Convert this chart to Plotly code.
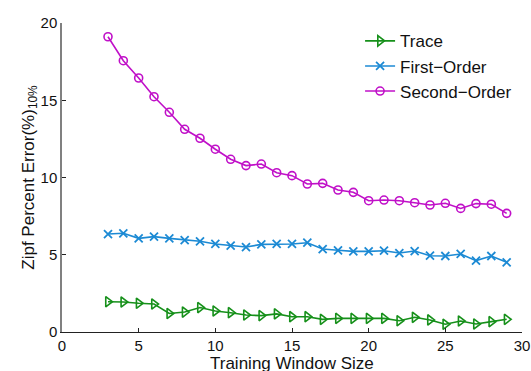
import plotly.graph_objects as go

window = list(range(3, 30))
trace_err = [1.96, 1.94, 1.86, 1.81, 1.20, 1.29, 1.58, 1.36, 1.25, 1.10, 1.06, 1.17, 0.99, 0.99,
             0.82, 0.88, 0.88, 0.88, 0.88, 0.73, 0.95, 0.78, 0.50, 0.71, 0.52, 0.67, 0.82]
first_err = [6.34, 6.39, 6.06, 6.17, 6.06, 5.95, 5.87, 5.70, 5.59, 5.50, 5.67, 5.70, 5.70, 5.78,
             5.37, 5.29, 5.22, 5.22, 5.26, 5.11, 5.24, 4.94, 4.92, 5.05, 4.62, 4.92, 4.51]
second_err = [19.11, 17.56, 16.44, 15.23, 14.22, 13.12, 12.54, 11.83, 11.18, 10.77, 10.87, 10.31,
              10.12, 9.58, 9.62, 9.19, 9.04, 8.50, 8.54, 8.50, 8.37, 8.22, 8.33, 8.00, 8.31, 8.27, 7.68]
x_ticks = [0, 5, 10, 15, 20, 25, 30]
y_ticks = [0, 5, 10, 15, 20]

GREEN = "#16901a"
BLUE = "#1c8ad4"
MAGENTA = "#c010c8"

fig = go.Figure()
fig.add_trace(go.Scatter(x=window, y=trace_err, name="Trace", mode="lines+markers",
                         line=dict(color=GREEN, width=1.6),
                         marker=dict(symbol="triangle-right-open", size=9, color=GREEN,
                                     line=dict(width=1.6, color=GREEN))))
fig.add_trace(go.Scatter(x=window, y=first_err, name="First\u2212Order", mode="lines+markers",
                         line=dict(color=BLUE, width=1.6),
                         marker=dict(symbol="x-thin", size=8, color=BLUE,
                                     line=dict(width=1.8, color=BLUE))))
fig.add_trace(go.Scatter(x=window, y=second_err, name="Second\u2212Order", mode="lines+markers",
                         line=dict(color=MAGENTA, width=1.6),
                         marker=dict(symbol="circle-open", size=8, color=MAGENTA,
                                     line=dict(width=1.6, color=MAGENTA))))

font = dict(family="Liberation Sans, Arial, sans-serif", size=15, color="#111111")
fig.update_layout(
    width=531, height=371,
    margin=dict(l=62, r=9, t=23, b=39),
    paper_bgcolor="white", plot_bgcolor="white",
    font=font,
    showlegend=True,
    legend=dict(x=0.648, y=0.999, xanchor="left", yanchor="top", bgcolor="rgba(0,0,0,0)",
                font=dict(size=17), tracegroupgap=0, itemwidth=30),
    xaxis=dict(range=[0, 30], tickvals=x_ticks, showgrid=False, zeroline=False,
               showline=True, linecolor="#222222", linewidth=1, automargin=False,
               ticks="inside", ticklen=4, tickcolor="#222222"),
    yaxis=dict(range=[0, 20], tickvals=y_ticks, showgrid=False, zeroline=False,
               showline=True, linecolor="#808080", linewidth=1.5, automargin=False,
               ticks="inside", ticklen=4, tickcolor="#222222",
               title=dict(text="Zipf Percent Error(%)<sub>10%</sub>", standoff=2, font=dict(size=17))),
    annotations=[dict(text="Training Window Size", xref="paper", yref="paper",
                      x=0.5, y=-0.102, xanchor="center", yanchor="middle",
                      showarrow=False, font=dict(size=17), borderpad=0)],
)
fig.write_html("out.html", config={"displayModeBar": False},
               post_script="document.body.style.margin='0';document.body.style.overflow='hidden';")
